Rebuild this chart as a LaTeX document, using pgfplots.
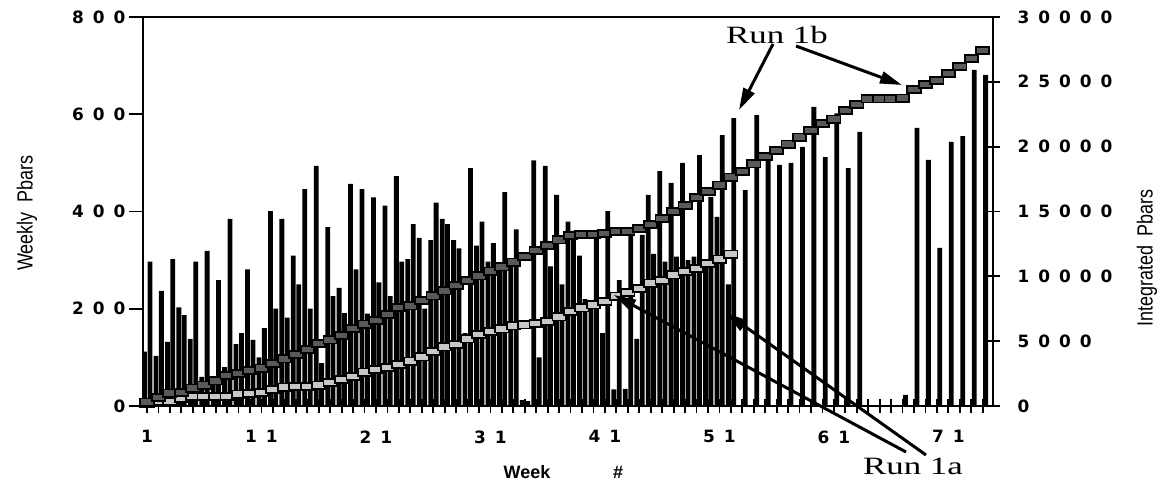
\documentclass[border=0pt]{standalone}
\usepackage{fontspec}
\setmainfont{Liberation Serif}
\newfontfamily\tickfont{DejaVu Sans}
\newfontfamily\labfont[FakeStretch=0.82]{Liberation Sans}
\newfontfamily\weekfont{Liberation Sans}
\newfontfamily\annfont[FakeStretch=1.4]{Liberation Serif}
\usepackage{pgfplots}
\usepackage{pgfplotstable}
\pgfplotsset{compat=1.18}
\usetikzlibrary{arrows.meta}

\newcommand\g{\hspace{9bp}}

% weekly pbars, Run 1a
\pgfplotstableread{
week pbars
1 112
2 103
3 132
4 203
5 138
6 60
7 50
8 80
9 127
10 281
11 100
12 401
13 385
14 309
15 446
16 494
17 368
18 243
19 457
20 446
21 429
22 412
23 473
24 302
25 346
26 341
27 385
28 341
29 150
30 330
31 297
32 294
33 300
34 12
35 505
36 494
37 434
38 379
39 309
40 200
41 150
42 34
43 35
44 138
45 434
46 483
47 459
48 500
49 307
50 300
51 389
52 250
}\weeklyA

% weekly pbars, Run 1b
\pgfplotstableread{
week pbars
1 297
2 237
3 302
4 187
5 297
6 319
7 259
8 385
9 150
10 136
11 160
12 200
13 182
14 250
15 200
16 88
17 226
18 191
19 281
20 190
21 254
22 226
23 297
24 374
25 200
26 418
27 374
28 324
29 489
30 379
31 335
32 440
33 363
34 10
35 100
36 287
37 250
38 360
39 220
40 357
41 401
42 259
43 355
44 352
45 313
46 297
47 307
48 300
49 516
50 430
51 557
52 592
53 444
54 598
55 520
56 496
57 500
58 533
59 615
60 512
61 602
62 489
63 564
64 0
65 0
66 0
67 23
68 572
69 506
70 325
71 543
72 555
73 691
74 681
}\weeklyB

% integrated pbars, Run 1a
\pgfplotstableread{
week total
1 220
2 331
3 360
4 590
5 712
6 717
7 717
8 717
9 920
10 979
11 1060
12 1280
13 1450
14 1488
15 1500
16 1610
17 1830
18 2060
19 2290
20 2620
21 2800
22 2950
23 3210
24 3460
25 3790
26 4190
27 4560
28 4760
29 5170
30 5500
31 5750
32 5940
33 6180
34 6247
35 6350
36 6530
37 6870
38 7270
39 7570
40 7790
41 8070
42 8470
43 8760
44 9080
45 9480
46 9700
47 10110
48 10350
49 10615
50 11000
51 11330
52 11720
}\totalA

% integrated pbars, Run 1b
\pgfplotstableread{
week total
1 308
2 660
3 1000
4 1040
5 1380
6 1610
7 1940
8 2360
9 2510
10 2720
11 2920
12 3280
13 3640
14 3980
15 4340
16 4810
17 5100
18 5430
19 5960
20 6320
21 6600
22 7040
23 7580
24 7720
25 8140
26 8490
27 8880
28 9310
29 9670
30 10040
31 10400
32 10730
33 11090
34 11550
35 12000
36 12380
37 12810
38 13150
39 13242
40 13242
41 13300
42 13442
43 13470
44 13680
45 14000
46 14460
47 15010
48 15470
49 16090
50 16530
51 17030
52 17650
53 18100
54 18670
55 19220
56 19700
57 20200
58 20740
59 21250
60 21770
61 22130
62 22800
63 23260
64 23687
65 23687
66 23687
67 23750
68 24420
69 24800
70 25080
71 25660
72 26160
73 26820
74 27400
}\totalB

\begin{document}
\begin{tikzpicture}
\pgfplotsset{
  every axis/.append style={
    scale only axis, width=850bp, height=389bp,
    xmin=0.65, xmax=74.9,
    axis line style={line width=2.5bp},
    tick style={black, line width=1.8bp},
    major tick length=14bp, minor tick length=14bp,
    ticklabel style={font=\tickfont\bfseries\fontsize{17}{17}\selectfont},
  }
}
\begin{axis}[
  name=main,
  ymin=0, ymax=800,
  xtick pos=bottom, ytick pos=left,
  xtick align=center, ytick align=outside,
  xtick={1,11,...,71},
  xticklabels={1,1\g1,2\g1,3\g1,4\g1,5\g1,6\g1,7\g1},
  xticklabel style={yshift=-14bp},
  minor xtick={1,...,74},
  ytick={0,200,...,800},
  yticklabels={0,2\g0\g0,4\g0\g0,6\g0\g0,8\g0\g0},
]
\addplot[ybar, bar width=4.8bp, bar shift=-2.5bp, fill=black, draw=none] table[x=week, y=pbars] {\weeklyA};
\addplot[ybar, bar width=4.8bp, bar shift=2.9bp, fill=black, draw=none] table[x=week, y=pbars] {\weeklyB};
\end{axis}
\begin{axis}[
  ymin=0, ymax=30000,
  axis x line=none, axis y line*=right,
  ytick align=center,
  scaled y ticks=false,
  ytick={0,5000,...,30000},
  yticklabels={0,5\g0\g0\g0,1\g0\g0\g0\g0,1\g5\g0\g0\g0,2\g0\g0\g0\g0,2\g5\g0\g0\g0,3\g0\g0\g0\g0},
  yticklabel style={anchor=west, xshift=14bp},
  clip=false,
]
\addplot[black, line width=1.8bp, mark=square*, mark size=3.6bp,
  mark options={xscale=1.85, fill=black!22, draw=black}] table[x=week, y=total] {\totalA};
\addplot[black, line width=1.8bp, mark=square*, mark size=3.6bp,
  mark options={xscale=1.85, fill=black!65, draw=black}] table[x=week, y=total] {\totalB};
\end{axis}
\begin{scope}[shift={(-143bp,406bp)}, x=1bp, y=-1bp]
  \node[rotate=90, font=\labfont\fontsize{22}{22}\selectfont] at (27,213) {Weekly\ \ Pbars};
  \node[rotate=90, font=\labfont\fontsize{22}{22}\selectfont] at (1147,258) {Integrated\ \ Pbars};
  \node[font=\weekfont\bfseries\fontsize{18}{18}\selectfont] at (527,472) {Week};
  \node[font=\weekfont\bfseries\fontsize{18}{18}\selectfont] at (618,472) {\#};
  \node[font=\annfont\fontsize{25}{25}\selectfont] at (777,35) {Run 1b};
  \node[font=\annfont\fontsize{25}{25}\selectfont] at (913,466) {Run 1a};
  \begin{scope}[line width=3bp, -{Triangle[length=22bp, width=12bp]}]
    \draw (773,44) -- (739,110);
    \draw (796,46) -- (902,85);
    \draw (906,452) -- (614,295);
    \draw (926,455) -- (726,313);
  \end{scope}
  \pgfresetboundingbox
  \path[use as bounding box] (0,0) rectangle (1165,487);
\end{scope}
\end{tikzpicture}
\end{document}
